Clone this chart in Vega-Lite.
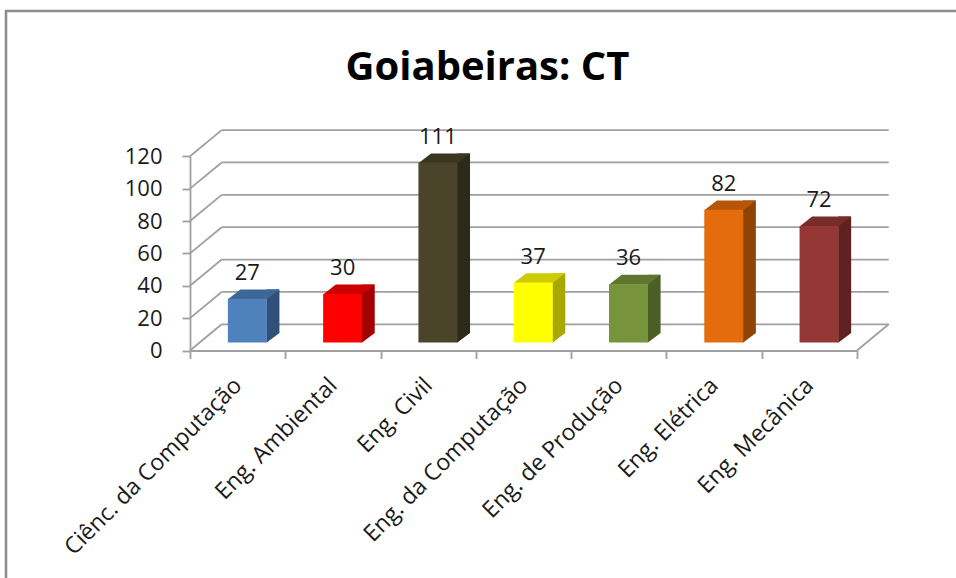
{
  "$schema": "https://vega.github.io/schema/vega-lite/v6.json",
  "width": 954,
  "height": 572,
  "autosize": {"type": "none"},
  "padding": {"left": 6, "top": 11, "right": -4, "bottom": -5},
  "background": "white",
  "config": {"view": {"stroke": "#8c8c8c", "strokeWidth": 2.5}, "font": "Open Sans"},
  "title": {"text": "Goiabeiras: CT", "font": "Open Sans", "fontSize": 40, "fontWeight": "bold", "color": "#000000", "anchor": "middle", "frame": "group", "baseline": "alphabetic", "offset": 0, "dy": 109, "dx": 4.5},
  "datasets": {
    "bars": [
      {"cat": "Ciênc. da Computação", "n": 27},
      {"cat": "Eng. Ambiental", "n": 30},
      {"cat": "Eng. Civil", "n": 111},
      {"cat": "Eng. da Computação", "n": 37},
      {"cat": "Eng. de Produção", "n": 36},
      {"cat": "Eng. Elétrica", "n": 82},
      {"cat": "Eng. Mecânica", "n": 72}
    ],
    "grid": [{"v": 0}, {"v": 20}, {"v": 40}, {"v": 60}, {"v": 80}, {"v": 100}, {"v": 120}]
  },
  "resolve": {"scale": {"color": "independent"}},
  "layer": [
    {
      "data": {"name": "bars"},
      "mark": {"type": "bar", "width": {"band": 0.409}, "xOffset": 9.7, "yOffset": -8, "y2Offset": -8, "opacity": 0},
      "encoding": {
        "x": {"field": "cat", "type": "nominal", "scale": {"domain": ["Ciênc. da Computação", "Eng. Ambiental", "Eng. Civil", "Eng. da Computação", "Eng. de Produção", "Eng. Elétrica", "Eng. Mecânica"], "range": [184, 851], "paddingInner": 0, "paddingOuter": 0}, "axis": {"orient": "bottom", "offset": -232.5, "title": null, "domain": true, "domainColor": "#a0a0a0", "domainWidth": 1.8, "ticks": true, "tickBand": "extent", "tickSize": 8, "tickColor": "#a0a0a0", "tickWidth": 1.8, "labelAngle": -45, "labelAlign": "right", "labelBaseline": "middle", "labelPadding": 23, "labelFont": "Open Sans", "labelFontSize": 23, "labelColor": "#1a1a1a", "labelOverlap": false, "labelLimit": 400, "grid": false}},
        "y": {"field": "n", "type": "quantitative", "scale": {"domain": [0, 120], "range": [339.5, 145.3], "nice": false}, "axis": {"orient": "left", "offset": -184, "title": null, "values": [0, 20, 40, 60, 80, 100, 120], "grid": false, "domain": true, "domainColor": "#a0a0a0", "domainWidth": 1.8, "ticks": true, "tickSize": 8, "tickColor": "#a0a0a0", "tickWidth": 1.8, "labelPadding": 20, "labelFont": "Open Sans", "labelFontSize": 22, "labelColor": "#1a1a1a"}},
        "y2": {"datum": 0}
      }
    },
    {
      "data": {"name": "grid"},
      "mark": {"type": "rule", "color": "#a0a0a0", "strokeWidth": 1.8, "xOffset": 31.7, "x2Offset": 31.7, "yOffset": -26.2},
      "encoding": {
        "x": {"datum": "Ciênc. da Computação", "type": "nominal", "bandPosition": 0},
        "x2": {"datum": "Eng. Mecânica", "bandPosition": 1},
        "y": {"field": "v", "type": "quantitative"}
      }
    },
    {
      "data": {"name": "grid"},
      "mark": {"type": "rule", "color": "#a0a0a0", "strokeWidth": 1.8, "x2Offset": 31.7, "y2Offset": -26.2},
      "encoding": {
        "x": {"datum": "Ciênc. da Computação", "type": "nominal", "bandPosition": 0},
        "x2": {"datum": "Ciênc. da Computação", "bandPosition": 0},
        "y": {"field": "v", "type": "quantitative"},
        "y2": {"field": "v"}
      }
    },
    {
      "data": {"name": "grid"},
      "transform": [{"filter": "datum.v == 0"}],
      "mark": {"type": "rule", "color": "#a0a0a0", "strokeWidth": 1.8, "x2Offset": 31.7, "y2Offset": -26.2},
      "encoding": {
        "x": {"datum": "Eng. Mecânica", "type": "nominal", "bandPosition": 1},
        "x2": {"datum": "Eng. Mecânica", "bandPosition": 1},
        "y": {"field": "v", "type": "quantitative"},
        "y2": {"field": "v"}
      }
    },
    {
      "data": {"name": "bars"},
      "mark": {"type": "bar", "width": 13, "xOffset": 35.3, "yOffset": -17.4, "y2Offset": -17.4},
      "encoding": {
        "x": {"field": "cat", "type": "nominal"},
        "y": {"field": "n", "type": "quantitative"},
        "y2": {"datum": 0},
        "color": {"field": "cat", "type": "nominal", "legend": null, "scale": {"domain": ["Ciênc. da Computação", "Eng. Ambiental", "Eng. Civil", "Eng. da Computação", "Eng. de Produção", "Eng. Elétrica", "Eng. Mecânica"], "range": ["#2F5078", "#A30000", "#2E2A1A", "#A8A800", "#4A5E26", "#8F4406", "#5E2221"]}}
      }
    },
    {
      "data": {"name": "bars"},
      "mark": {"type": "point", "filled": true, "opacity": 1, "strokeWidth": 0, "size": 400, "shape": "M 2.88 -1.76 L 4.18 -1.76 L 2.88 -0.77 Z"},
      "encoding": {
        "x": {"field": "cat", "type": "nominal"},
        "y": {"datum": 0, "type": "quantitative"},
        "color": {"field": "cat", "type": "nominal", "legend": null, "scale": {"domain": ["Ciênc. da Computação", "Eng. Ambiental", "Eng. Civil", "Eng. da Computação", "Eng. de Produção", "Eng. Elétrica", "Eng. Mecânica"], "range": ["#2F5078", "#A30000", "#2E2A1A", "#A8A800", "#4A5E26", "#8F4406", "#5E2221"]}}
      }
    },
    {
      "data": {"name": "bars"},
      "mark": {"type": "point", "filled": true, "opacity": 1, "strokeWidth": 0, "size": 400, "shape": "M -0.98 -0.75 L 2.92 -0.75 L 4.18 -1.74 L 0.28 -1.74 Z"},
      "encoding": {
        "x": {"field": "cat", "type": "nominal"},
        "y": {"field": "n", "type": "quantitative"},
        "color": {"field": "cat", "type": "nominal", "legend": null, "scale": {"domain": ["Ciênc. da Computação", "Eng. Ambiental", "Eng. Civil", "Eng. da Computação", "Eng. de Produção", "Eng. Elétrica", "Eng. Mecânica"], "range": ["#3D6699", "#CC0000", "#3A3621", "#CCCC00", "#5F7630", "#B65608", "#782C2A"]}}
      }
    },
    {
      "data": {"name": "bars"},
      "mark": {"type": "bar", "width": {"band": 0.409}, "xOffset": 9.7, "yOffset": -8, "y2Offset": -8},
      "encoding": {
        "x": {"field": "cat", "type": "nominal"},
        "y": {"field": "n", "type": "quantitative"},
        "y2": {"datum": 0},
        "color": {"field": "cat", "type": "nominal", "legend": null, "scale": {"domain": ["Ciênc. da Computação", "Eng. Ambiental", "Eng. Civil", "Eng. da Computação", "Eng. de Produção", "Eng. Elétrica", "Eng. Mecânica"], "range": ["#4F81BD", "#FF0000", "#4A452A", "#FFFF00", "#77933C", "#E46C0A", "#953735"]}}
      }
    },
    {
      "data": {"name": "bars"},
      "mark": {"type": "text", "font": "Open Sans", "fontSize": 22, "fill": "#1a1a1a", "xOffset": 9.7, "yOffset": -27, "baseline": "alphabetic", "align": "center"},
      "encoding": {
        "x": {"field": "cat", "type": "nominal"},
        "y": {"field": "n", "type": "quantitative"},
        "text": {"field": "n", "type": "quantitative"}
      }
    }
  ]
}
